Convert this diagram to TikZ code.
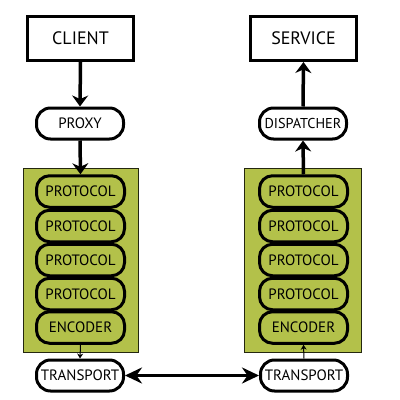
\documentclass[tikz,border=0pt]{standalone}
\usepackage{fontspec}
\setmainfont{PT Sans}
\usetikzlibrary{arrows.meta}
\definecolor{olive}{RGB}{179,193,74}
\tikzset{
  bigbox/.style={draw=black, line width=3pt, fill=white, minimum width=106pt, minimum height=44pt, inner sep=0pt, font=\fontsize{18}{20}\selectfont},
  pill/.style={draw=black, line width=3pt, fill=white, rounded corners=14pt, minimum width=87pt, minimum height=31pt, inner sep=0pt, font=\fontsize{15}{17}\selectfont},
  stackbox/.style={draw=black, line width=3pt, fill=olive, rounded corners=13pt, minimum width=88pt, minimum height=31.5pt, inner sep=0pt, font=\fontsize{15}{17}\selectfont},
  panel/.style={draw=black!80!olive, line width=1pt, fill=olive, inner sep=0pt},
  thick arrow/.style={line width=3.5pt, -{Stealth[length=11pt,width=16pt]}},
  thin arrow/.style={line width=1pt, -{Stealth[length=5pt,width=6pt]}},
}
\begin{document}
\begin{tikzpicture}[x=1pt,y=-1pt]
\useasboundingbox (0,0) rectangle (400,400);
% top boxes
\node[bigbox] (client) at (80.5,38.5) {CLIENT};
\node[bigbox] (service) at (303.5,38.5) {SERVICE};
% proxy / dispatcher
\node[pill] (proxy) at (80,123.5) {PROXY};
\node[pill, font=\fontsize{14.3}{16}\selectfont] (dispatcher) at (303,123.5) {DISPATCHER};
% panels
\node[panel, minimum width=115pt, minimum height=184pt] (panelL) at (80.5,260) {};
\node[panel, minimum width=117pt, minimum height=184pt] (panelR) at (302.5,260) {};
% left stack
\node[stackbox] (pL1) at (80.5,191.5) {PROTOCOL};
\node[stackbox] (pL2) at (80.5,226) {PROTOCOL};
\node[stackbox] (pL3) at (80.5,260) {PROTOCOL};
\node[stackbox] (pL4) at (80.5,294) {PROTOCOL};
\node[stackbox] (eL) at (80.5,327.5) {ENCODER};
% right stack
\node[stackbox] (pR1) at (303.5,191.5) {PROTOCOL};
\node[stackbox] (pR2) at (303.5,226) {PROTOCOL};
\node[stackbox] (pR3) at (303.5,260) {PROTOCOL};
\node[stackbox] (pR4) at (303.5,294) {PROTOCOL};
\node[stackbox] (eR) at (303.5,327.5) {ENCODER};
% transports
\node[pill] (tL) at (80,375.5) {TRANSPORT};
\node[pill] (tR) at (304,375.5) {TRANSPORT};
% connectors
\draw[thick arrow] (client.south) -- (proxy.north);
\draw[thick arrow] (proxy.south) -- (pL1.north);
\draw[thin arrow] (eL.south) -- (tL.north);
\draw[thin arrow] (tR.north) -- (eR.south);
\draw[thick arrow] (pR1.north) -- (dispatcher.south);
\draw[thick arrow] (dispatcher.north) -- (service.south);
\draw[line width=3pt, {Stealth[length=17pt,width=16pt]}-{Stealth[length=17pt,width=16pt]}] (tL.east) -- (tR.west);
\end{tikzpicture}
\end{document}
